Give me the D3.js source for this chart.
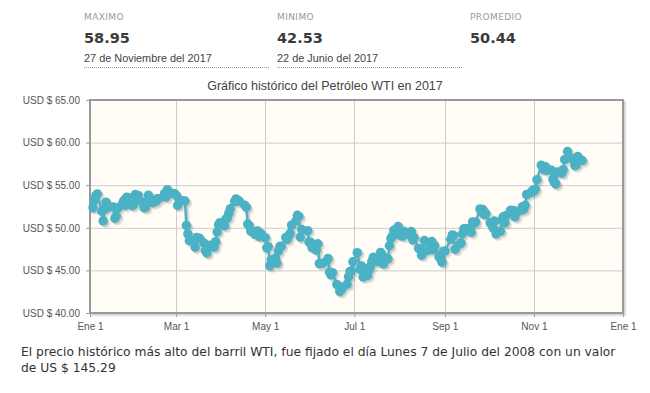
<!DOCTYPE html>
<html><head><meta charset="utf-8">
<script src="https://cdn.jsdelivr.net/npm/d3@7"></script>
<style>
body{margin:0;background:#fff;}
svg{display:block;font-family:"Liberation Sans",Arial,sans-serif;}
</style></head><body>
<svg id="c" width="650" height="393"></svg>
<script>
const statLabels = ["MAXIMO", "MINIMO", "PROMEDIO"];
const statValues = ["58.95", "42.53", "50.44"];
const statDates = ["27 de Noviembre del 2017", "22 de Junio del 2017", ""];
const chartTitle = "Gráfico histórico del Petróleo WTI en 2017";
const yTicks = [40, 45, 50, 55, 60, 65];
const xTickDates = ["2017-01-01", "2017-03-01", "2017-05-01", "2017-07-01", "2017-09-01", "2017-11-01", "2018-01-01"];
const xTickLabels = ["Ene 1", "Mar 1", "May 1", "Jul 1", "Sep 1", "Nov 1", "Ene 1"];
const footnote = [
  "El precio histórico más alto del barril WTI, fue fijado el día Lunes 7 de Julio del 2008 con un valor",
  "de US $ 145.29"
];
const dates = [
 "2017-01-03","2017-01-04","2017-01-05","2017-01-06","2017-01-09","2017-01-10","2017-01-11","2017-01-12","2017-01-13","2017-01-17","2017-01-18","2017-01-19","2017-01-20","2017-01-23","2017-01-24","2017-01-25","2017-01-26","2017-01-27","2017-01-30","2017-01-31",
 "2017-02-01","2017-02-02","2017-02-03","2017-02-06","2017-02-07","2017-02-08","2017-02-09","2017-02-10","2017-02-13","2017-02-14","2017-02-15","2017-02-16","2017-02-17","2017-02-21","2017-02-22","2017-02-23","2017-02-24","2017-02-27","2017-02-28",
 "2017-03-01","2017-03-02","2017-03-03","2017-03-06","2017-03-07","2017-03-08","2017-03-09","2017-03-10","2017-03-13","2017-03-14","2017-03-15","2017-03-16","2017-03-17","2017-03-20","2017-03-21","2017-03-22","2017-03-23","2017-03-24","2017-03-27","2017-03-28","2017-03-29","2017-03-30","2017-03-31",
 "2017-04-03","2017-04-04","2017-04-05","2017-04-06","2017-04-07","2017-04-10","2017-04-11","2017-04-12","2017-04-13","2017-04-17","2017-04-18","2017-04-19","2017-04-20","2017-04-21","2017-04-24","2017-04-25","2017-04-26","2017-04-27","2017-04-28",
 "2017-05-01","2017-05-02","2017-05-03","2017-05-04","2017-05-05","2017-05-08","2017-05-09","2017-05-10","2017-05-11","2017-05-12","2017-05-15","2017-05-16","2017-05-17","2017-05-18","2017-05-19","2017-05-22","2017-05-23","2017-05-24","2017-05-25","2017-05-26","2017-05-30","2017-05-31",
 "2017-06-01","2017-06-02","2017-06-05","2017-06-06","2017-06-07","2017-06-08","2017-06-09","2017-06-12","2017-06-13","2017-06-14","2017-06-15","2017-06-16","2017-06-19","2017-06-20","2017-06-21","2017-06-22","2017-06-23","2017-06-26","2017-06-27","2017-06-28","2017-06-29","2017-06-30",
 "2017-07-03","2017-07-05","2017-07-06","2017-07-07","2017-07-10","2017-07-11","2017-07-12","2017-07-13","2017-07-14","2017-07-17","2017-07-18","2017-07-19","2017-07-20","2017-07-21","2017-07-24","2017-07-25","2017-07-26","2017-07-27","2017-07-28","2017-07-31",
 "2017-08-01","2017-08-02","2017-08-03","2017-08-04","2017-08-07","2017-08-08","2017-08-09","2017-08-10","2017-08-11","2017-08-14","2017-08-15","2017-08-16","2017-08-17","2017-08-18","2017-08-21","2017-08-22","2017-08-23","2017-08-24","2017-08-25","2017-08-28","2017-08-29","2017-08-30","2017-08-31",
 "2017-09-01","2017-09-05","2017-09-06","2017-09-07","2017-09-08","2017-09-11","2017-09-12","2017-09-13","2017-09-14","2017-09-15","2017-09-18","2017-09-19","2017-09-20","2017-09-21","2017-09-22","2017-09-25","2017-09-26","2017-09-27","2017-09-28","2017-09-29",
 "2017-10-02","2017-10-03","2017-10-04","2017-10-05","2017-10-06","2017-10-09","2017-10-10","2017-10-11","2017-10-12","2017-10-13","2017-10-16","2017-10-17","2017-10-18","2017-10-19","2017-10-20","2017-10-23","2017-10-24","2017-10-25","2017-10-26","2017-10-27","2017-10-30","2017-10-31",
 "2017-11-01","2017-11-02","2017-11-03","2017-11-06","2017-11-07","2017-11-08","2017-11-09","2017-11-10","2017-11-13","2017-11-14","2017-11-15","2017-11-16","2017-11-17","2017-11-20","2017-11-21","2017-11-22","2017-11-24","2017-11-27","2017-11-28","2017-11-29","2017-11-30",
 "2017-12-01","2017-12-04"
];
const prices = [
 52.36,53.26,53.77,53.98,51.95,50.82,52.19,53.01,52.36,52.45,51.12,51.39,52.33,52.77,53.18,52.63,53.59,53.57,52.61,52.75,
 53.90,53.55,53.81,53.01,52.36,52.40,53.01,53.84,52.96,53.21,53.11,53.41,53.41,54.02,53.61,54.48,53.99,54.04,54.00,
 53.82,52.63,53.33,53.19,53.14,50.28,49.28,48.49,48.40,47.72,48.86,48.75,48.78,48.22,47.34,47.04,47.70,47.97,47.73,48.37,49.51,50.35,50.60,
 50.24,51.03,51.15,51.70,52.24,53.08,53.40,53.11,53.18,52.65,52.41,50.44,50.27,49.62,49.23,49.56,49.62,48.97,49.33,
 48.84,47.65,47.79,45.55,46.23,46.46,45.84,47.28,47.81,47.83,48.86,48.64,49.04,49.36,50.32,50.81,51.47,51.34,48.90,49.80,49.66,48.32,
 48.32,47.68,47.38,48.12,45.80,45.80,45.82,46.10,46.41,44.79,44.47,44.74,43.34,43.23,42.53,42.74,43.01,43.38,44.24,44.88,44.93,46.02,
 47.08,45.13,45.52,44.23,44.40,45.04,45.49,46.08,46.54,46.02,46.40,47.12,46.79,45.77,46.34,47.89,48.75,49.04,49.71,50.17,
 49.16,49.59,49.03,49.58,49.39,49.17,49.56,48.59,48.82,47.59,47.55,46.78,47.09,48.51,47.37,47.64,48.41,47.43,47.87,46.57,46.44,45.96,47.23,
 47.29,48.66,49.16,49.09,47.48,48.07,48.23,49.30,49.89,49.89,49.91,49.48,50.69,50.55,50.66,52.22,51.88,52.14,51.56,51.67,
 50.58,50.42,49.98,50.79,49.29,49.58,50.92,51.30,50.60,51.45,52.08,51.87,52.04,51.29,51.84,52.04,52.47,52.18,52.64,53.90,54.15,54.38,
 54.30,54.54,55.64,57.35,57.20,56.81,57.17,56.74,56.76,55.70,55.33,55.14,56.55,56.42,56.83,58.02,58.95,58.11,57.99,57.30,57.40,
 58.36,57.90
];

const parse = d3.timeParse("%Y-%m-%d");
const data = dates.map((d, i) => ({date: parse(d), value: prices[i]}));
const svg = d3.select("#c");
const dv = "'DejaVu Sans',Verdana,sans-serif";

// Header stats
const colX = [84, 277, 470];
const header = svg.append("g");
statLabels.forEach((lab, i) => {
  const g = header.append("g").attr("transform", `translate(${colX[i]},0)`);
  g.append("text").attr("x", 0).attr("y", 19.5).attr("font-size", 9).attr("fill", "#999")
    .attr("letter-spacing", 0.4).attr("font-family", dv).text(lab);
  g.append("text").attr("x", 0).attr("y", 43).attr("font-size", 14.5).attr("font-weight", "bold")
    .attr("fill", "#3a3a3a").attr("font-family", dv).text(statValues[i]);
  if (statDates[i]) {
    g.append("text").attr("x", 0).attr("y", 62).attr("font-size", 10.9).attr("fill", "#444").text(statDates[i]);
    g.append("line").attr("x1", 0).attr("x2", 185).attr("y1", 67.5).attr("y2", 67.5)
      .attr("stroke", "#999").attr("stroke-width", 1).attr("stroke-dasharray", "1,1");
  }
});

// Title
svg.append("text").attr("x", 325).attr("y", 90).attr("text-anchor", "middle")
  .attr("font-size", 12.5).attr("fill", "#444").text(chartTitle);

// Plot
const L = 90, R = 623, T = 100, B = 313;
const x = d3.scaleTime().domain([parse(xTickDates[0]), parse(xTickDates[xTickDates.length - 1])]).range([L, R]);
const y = d3.scaleLinear().domain([40, 65]).range([B, T]);

// border shadow
[1, 2, 3].forEach(k => {
  svg.append("rect").attr("x", L + k * 0.8).attr("y", T + k * 0.8).attr("width", R - L).attr("height", B - T)
    .attr("fill", "none").attr("stroke", "rgba(0,0,0,0.07)").attr("stroke-width", 2);
});
svg.append("rect").attr("x", L).attr("y", T).attr("width", R - L).attr("height", B - T).attr("fill", "#fffdf6");

// grid
const grid = svg.append("g");
grid.selectAll(".gy").data(yTicks).join("line")
  .attr("x1", L).attr("x2", R).attr("y1", d => y(d) + 0.5).attr("y2", d => y(d) + 0.5)
  .attr("stroke", "#cccccc");
grid.selectAll(".gx").data(xTickDates).join("line")
  .attr("x1", d => Math.round(x(parse(d))) + 0.5).attr("x2", d => Math.round(x(parse(d))) + 0.5)
  .attr("y1", T).attr("y2", B).attr("stroke", "#cccccc");

// axes
const yAxis = d3.axisLeft(y).tickValues(yTicks).tickSize(4).tickPadding(6)
  .tickFormat(d => "USD $ " + d3.format(".2f")(d));
const gy = svg.append("g").attr("transform", `translate(${L},0)`).call(yAxis);
gy.select(".domain").remove();
gy.selectAll("line").attr("stroke", "#999");
gy.selectAll("text").attr("font-size", 10).attr("fill", "#555").attr("font-family", "'Liberation Sans',Arial,sans-serif");

const xAxis = d3.axisBottom(x).tickValues(xTickDates.map(parse)).tickSize(4).tickPadding(6)
  .tickFormat((d, i) => xTickLabels[i]);
const gx = svg.append("g").attr("transform", `translate(0,${B})`).call(xAxis);
gx.select(".domain").remove();
gx.selectAll("line").attr("stroke", "#999");
gx.selectAll("text").attr("font-size", 10).attr("fill", "#555").attr("font-family", "'Liberation Sans',Arial,sans-serif");

// border
svg.append("rect").attr("x", L).attr("y", T).attr("width", R - L).attr("height", B - T)
  .attr("fill", "none").attr("stroke", "#999").attr("stroke-width", 2);

// series
const line = d3.line().x(d => x(d.date)).y(d => y(d.value));
const series = svg.append("g");
[1, 2, 3].forEach(k => {
  const sg = series.append("g").attr("transform", `translate(${k * 0.9},${k * 0.9})`).attr("opacity", 0.07);
  sg.append("path").datum(data).attr("d", line).attr("fill", "none").attr("stroke", "#000").attr("stroke-width", 2.5);
  sg.selectAll("circle").data(data).join("circle").attr("cx", d => x(d.date)).attr("cy", d => y(d.value)).attr("r", 4.7).attr("fill", "#000");
});
series.append("path").datum(data).attr("d", line).attr("fill", "none").attr("stroke", "#4bb2c5").attr("stroke-width", 2.5);
series.selectAll(".m").data(data).join("circle").attr("class", "m")
  .attr("cx", d => x(d.date)).attr("cy", d => y(d.value)).attr("r", 4.7).attr("fill", "#4bb2c5");

// footnote
svg.append("g").selectAll("text").data(footnote).join("text")
  .attr("x", 21).attr("y", (d, i) => 356 + i * 16).attr("font-size", 12.3).attr("fill", "#333")
  .attr("font-family", dv).text(d => d);
</script>
</body></html>
